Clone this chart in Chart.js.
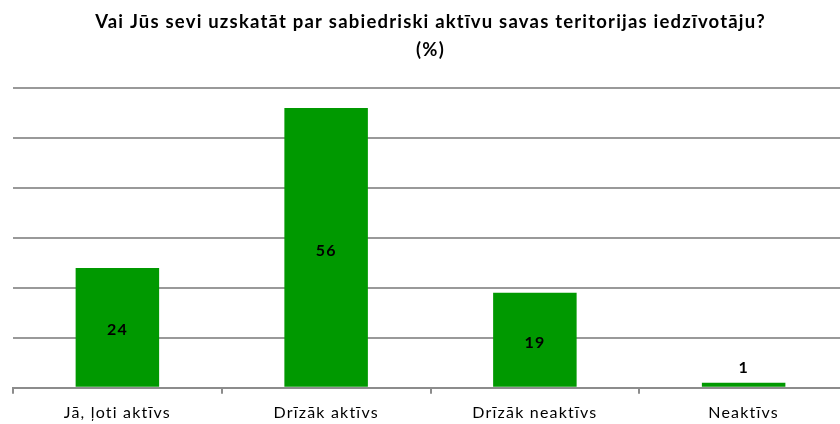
<!DOCTYPE html>
<html>
<head>
<meta charset="utf-8">
<script src="https://cdn.jsdelivr.net/npm/chart.js@4.4.1/dist/chart.umd.min.js"></script>
<style>
html,body{margin:0;padding:0;overflow:hidden;background:#fff;}
#wrap{width:840px;height:424px;overflow:hidden;}
</style>
</head>
<body>
<div id="wrap"><canvas id="c" width="848" height="433"></canvas></div>
<script>
const titleLines = ["Vai Jūs sevi uzskatāt par sabiedriski aktīvu savas teritorijas iedzīvotāju?", "(%)"];
const categories = ["Jā, ļoti aktīvs", "Drīzāk aktīvs", "Drīzāk neaktīvs", "Neaktīvs"];
const values = [24, 56, 19, 1];
const yMin = 0, yMax = 60, yStep = 10;

const FONT = "Lato, 'Open Sans', sans-serif";

const spacingPlugin = {
  id: 'letterSpacing',
  beforeInit(chart) { chart.ctx.letterSpacing = '1.2px'; },
  beforeLayout(chart) { chart.ctx.letterSpacing = '1.2px'; },
  beforeDraw(chart) { chart.ctx.letterSpacing = '1.2px'; }
};

const labelPlugin = {
  id: 'barLabels',
  afterDatasetsDraw(chart) {
    const ctx = chart.ctx;
    const meta = chart.getDatasetMeta(0);
    ctx.save();
    ctx.letterSpacing = '1px';
    ctx.font = "bold 16px " + FONT;
    ctx.fillStyle = "#000";
    ctx.textAlign = "center";
    ctx.textBaseline = "middle";
    meta.data.forEach((bar, i) => {
      const h = bar.base - bar.y;
      const y = h > 30 ? (bar.y + bar.base) / 2 + 3 : bar.y - 15;
      ctx.fillText(String(chart.data.datasets[0].data[i]), bar.x, y);
    });
    ctx.restore();
  }
};

new Chart(document.getElementById('c'), {
  type: 'bar',
  data: {
    labels: categories,
    datasets: [{
      data: values,
      backgroundColor: '#009900',
      borderWidth: 0,
      categoryPercentage: 1.0,
      barPercentage: 0.4
    }]
  },
  options: {
    responsive: false,
    animation: false,
    devicePixelRatio: 1,
    layout: { padding: { left: 13, right: 0, top: 8, bottom: 2 } },
    plugins: {
      legend: { display: false },
      tooltip: { enabled: false },
      title: {
        display: true,
        text: titleLines,
        color: '#000',
        font: { family: FONT, size: 18.5, weight: 'bold', lineHeight: 1.514 },
        padding: { top: 0, bottom: 24 }
      }
    },
    scales: {
      x: {
        grid: {
          offset: true,
          drawOnChartArea: false,
          drawTicks: true,
          tickLength: 6,
          color: '#8c8c8c',
          lineWidth: 2
        },
        border: { display: true, color: '#8c8c8c', width: 2 },
        ticks: {
          color: '#000',
          font: { family: FONT, size: 16 },
          padding: 9,
          maxRotation: 0
        }
      },
      y: {
        min: yMin,
        max: yMax,
        ticks: { display: false, stepSize: yStep },
        grid: { color: '#999999', lineWidth: 2, drawTicks: false },
        border: { display: false }
      }
    }
  },
  plugins: [spacingPlugin, labelPlugin]
});
</script>
</body>
</html>
